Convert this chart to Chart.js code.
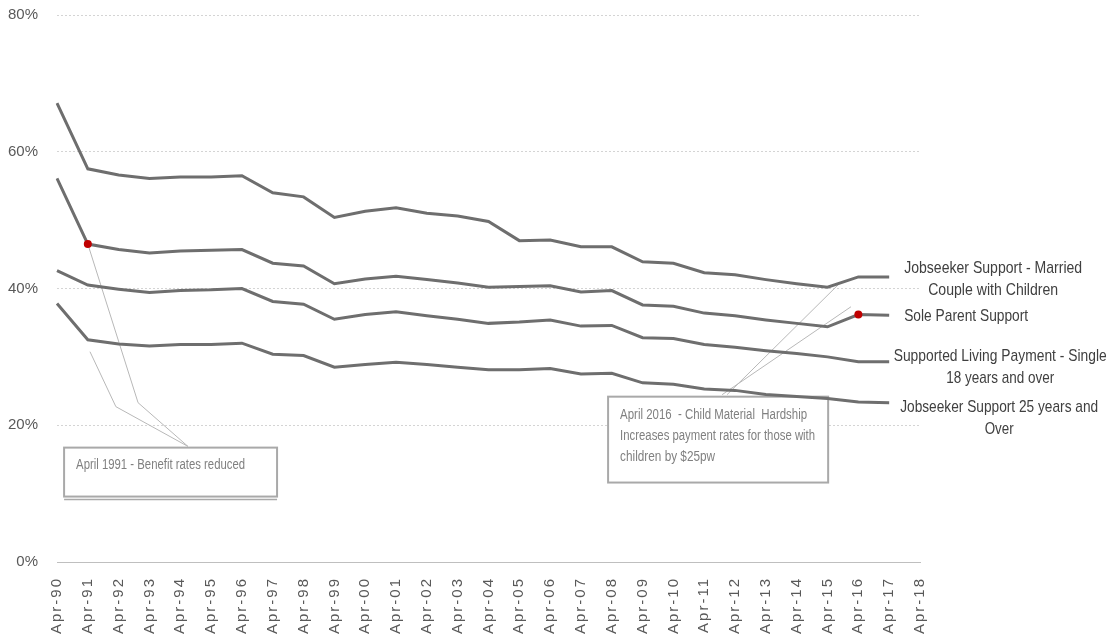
<!DOCTYPE html>
<html><head><meta charset="utf-8">
<script src="https://cdn.jsdelivr.net/npm/chart.js@4"></script>
<style>html,body{margin:0;padding:0;background:#fff}#wrap{width:1116px;height:637px;position:relative}canvas{display:block}</style>
</head><body><div id="wrap"><canvas id="c" width="1116" height="637"></canvas></div>
<script>
// ---------- data ----------
const categories = ['Apr-90','Apr-91','Apr-92','Apr-93','Apr-94','Apr-95','Apr-96','Apr-97','Apr-98','Apr-99',
  'Apr-00','Apr-01','Apr-02','Apr-03','Apr-04','Apr-05','Apr-06','Apr-07','Apr-08','Apr-09',
  'Apr-10','Apr-11','Apr-12','Apr-13','Apr-14','Apr-15','Apr-16','Apr-17','Apr-18'];
const jobseekerMarried = [67.1,57.5,56.6,56.1,56.3,56.3,56.5,54.0,53.4,50.4,51.3,51.8,51.0,50.6,49.8,47.0,47.1,46.1,46.1,43.9,43.7,42.3,42.0,41.3,40.7,40.2,41.7,41.7];
const soleParent = [56.1,46.5,45.7,45.2,45.5,45.6,45.7,43.7,43.3,40.7,41.4,41.8,41.3,40.8,40.2,40.3,40.4,39.5,39.7,37.6,37.4,36.4,36.0,35.4,34.9,34.4,36.2,36.1];
const supportedLiving = [42.6,40.5,39.9,39.4,39.7,39.8,40.0,38.1,37.7,35.5,36.2,36.6,36.0,35.5,34.9,35.1,35.4,34.5,34.6,32.8,32.7,31.8,31.4,30.9,30.5,30.0,29.3,29.3];
const jobseeker25 = [37.8,32.5,31.9,31.6,31.8,31.8,32.0,30.4,30.2,28.5,28.9,29.2,28.9,28.5,28.1,28.1,28.3,27.5,27.6,26.2,26.0,25.3,25.1,24.5,24.2,23.9,23.4,23.3];
const seriesLabels = [
  ['Jobseeker Support - Married','Couple with Children'],
  ['Sole Parent Support'],
  ['Supported Living Payment - Single','18 years and over'],
  ['Jobseeker Support 25 years and','Over']
];
const highlightIdx = [1, 26]; // Apr-91 and Apr-16 on Sole Parent Support
const yTickValues = [0,20,40,60,80];
const noteTexts = [
  ['April 1991 - Benefit rates reduced'],
  ['April 2016  - Child Material  Hardship','Increases payment rates for those with','children by $25pw']
];

// ---------- layout / style (not data) ----------
const labelPlace = [ // offsets from last point (px): center dx, first line dy, widths
  {dx:104, dy:-9, w:[178,130]},
  {dx:77,  dy:1,  w:[124]},
  {dx:111, dy:-5, w:[213,108]},
  {dx:110, dy:5,  w:[198,29]}
];
const boxes = [ // in axis units (category index, percent)
  {x0:0.23, x1:7.14, yTop:16.73, yBot:9.57, w:[169], double:true},
  {x0:17.88, x1:25.02, yTop:24.18, yBot:11.62, w:[187,195,95], double:false}
];
const leaders = [
  [[1, soleParent[1]], [2.63, 23.3], [4.25, 16.9]],
  [[1.07, 30.76], [1.91, 22.72], [4.25, 16.9]],
  [[21.74, 24.47], [25.41, 40.84]],
  [[21.58, 24.47], [25.76, 37.33]]
];

Chart.defaults.font.family = "'Liberation Sans', Arial, sans-serif";

const notesPlugin = {
  id: 'notes',
  beforeDraw(chart) {
    const xs = chart.scales.x;
    if (!xs._wrapped) {
      const orig = xs.drawLabels;
      xs.drawLabels = function(a) {
        const c = this.ctx; c.save();
        try { c.letterSpacing = '2px'; } catch(e) {}
        orig.call(this, a); c.restore();
      };
      xs._wrapped = true;
    }
  },
  beforeDatasetsDraw(chart) {
    const {ctx, scales:{x, y}} = chart;
    const px = v => x.getPixelForValue(v), py = v => y.getPixelForValue(v);
    ctx.save();
    boxes.forEach((b, i) => {
      const l = px(b.x0), r = px(b.x1), t = py(b.yTop), bt = py(b.yBot);
      ctx.fillStyle = '#fff';
      ctx.fillRect(l, t, r - l, bt - t);
      ctx.strokeStyle = '#a9a9a9'; ctx.lineWidth = 2;
      ctx.strokeRect(l, t, r - l, bt - t);
      if (b.double) {
        ctx.lineWidth = 1.5;
        ctx.beginPath(); ctx.moveTo(l, bt + 3); ctx.lineTo(r, bt + 3); ctx.stroke();
      }
      ctx.fillStyle = '#808080';
      ctx.font = "14px 'Liberation Sans', Arial, sans-serif";
      ctx.textAlign = 'left'; ctx.textBaseline = 'middle';
      noteTexts[i].forEach((s, k) => ctx.fillText(s, l + 12, t + 18 + k * 21, b.w[k]));
    });
    ctx.strokeStyle = '#b8b8b8'; ctx.lineWidth = 1;
    leaders.forEach(pts => {
      ctx.beginPath();
      pts.forEach(([a, v], k) => { const X = px(a), Y = py(v); k ? ctx.lineTo(X, Y) : ctx.moveTo(X, Y); });
      ctx.stroke();
    });
    ctx.restore();
  },
  afterDatasetsDraw(chart) {
    const {ctx} = chart;
    ctx.save();
    ctx.fillStyle = '#404040';
    ctx.font = "17px 'Liberation Sans', Arial, sans-serif";
    ctx.textAlign = 'center'; ctx.textBaseline = 'middle';
    chart.data.datasets.forEach((ds, i) => {
      const meta = chart.getDatasetMeta(i);
      const last = meta.data[meta.data.length - 1];
      const p = labelPlace[i];
      seriesLabels[i].forEach((s, k) => ctx.fillText(s, last.x + p.dx, last.y + p.dy + k * 22, p.w[k]));
    });
    ctx.restore();
  }
};

const lineStyle = {borderColor:'#6e6e6e', borderWidth:3, pointRadius:0, tension:0, fill:false};

new Chart(document.getElementById('c'), {
  type: 'line',
  data: {
    labels: categories,
    datasets: [
      {...lineStyle, label: seriesLabels[0].join(' '), data: jobseekerMarried},
      {...lineStyle, label: seriesLabels[1].join(' '), data: soleParent,
        pointRadius: c => highlightIdx.includes(c.dataIndex) ? 4 : 0,
        pointBackgroundColor: '#c00000', pointBorderColor: '#c00000', pointBorderWidth: 0},
      {...lineStyle, label: seriesLabels[2].join(' '), data: supportedLiving},
      {...lineStyle, label: seriesLabels[3].join(' '), data: jobseeker25}
    ]
  },
  options: {
    responsive: false,
    animation: false,
    devicePixelRatio: 1,
    layout: {padding: {top: 15, right: 196, bottom: 0, left: 0}},
    plugins: {legend: {display: false}, tooltip: {enabled: false}},
    scales: {
      x: {
        grid: {display: false},
        border: {display: true, color: '#bfbfbf', width: 1},
        ticks: {autoSkip: false, maxRotation: 90, minRotation: 90, padding: 7, color: '#595959',
          font: {size: 15}},
        afterFit(s) { s.height = 75; }
      },
      y: {
        min: 0, max: 80,
        afterBuildTicks(s) { s.ticks = yTickValues.map(v => ({value: v})); },
        grid: {drawTicks: false, color: c => c.tick && c.tick.value === 0 ? 'rgba(0,0,0,0)' : '#d4d4d4', lineWidth: 1},
        border: {display: false, dash: [2, 2]},
        ticks: {padding: 19, color: '#595959', font: {size: 15}, callback: v => v + '%'},
        afterFit(s) { s.width = 57; s.paddingTop = 0; s.paddingBottom = 0; }
      }
    }
  },
  plugins: [notesPlugin]
});
</script>
</body></html>
